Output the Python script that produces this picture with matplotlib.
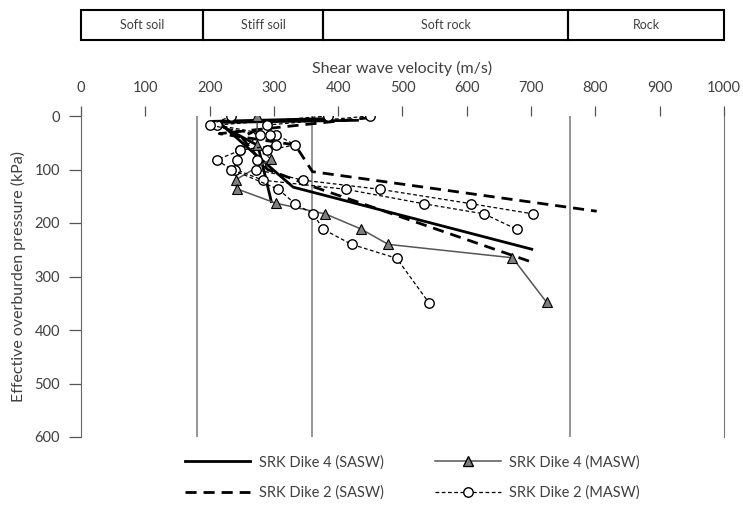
import matplotlib
matplotlib.use("Agg")
import matplotlib.pyplot as plt
from matplotlib.lines import Line2D
from matplotlib.patches import Rectangle

# ---------------- data ----------------
# SRK Dike 4 (SASW) profiles: velocity (m/s), pressure (kPa)
d4_sasw_v1 = [430, 215, 260, 330, 701]
d4_sasw_p1 = [8, 12, 60, 133, 249]
d4_sasw_v2 = [380, 205, 275, 296]
d4_sasw_p2 = [5, 10, 55, 160]

# SRK Dike 2 (SASW)
d2_sasw_v1 = [450, 215, 333, 360, 802]
d2_sasw_p1 = [3, 33, 54, 104, 178]
d2_sasw_v2 = [300, 250, 290, 361, 701]
d2_sasw_p2 = [10, 40, 100, 132, 273]

# SRK Dike 4 (MASW)
d4_masw_v = [274, 274, 295, 241, 242, 303, 380, 435, 478, 671, 724]
d4_masw_p = [0, 54, 81, 119, 136, 163, 183, 211, 240, 265, 348]

# SRK Dike 2 (MASW)
d2_masw_v1 = [449, 289, 304, 333, 290, 273, 272, 346, 465, 607, 703]
d2_masw_p1 = [0, 17, 35, 54, 64, 82, 100, 120, 137, 164, 183]
d2_masw_v2 = [384, 211, 294, 304, 248, 243, 240, 283, 412, 533, 627, 678]
d2_masw_p2 = [0, 17, 35, 54, 64, 82, 100, 120, 137, 164, 183, 212]
d2_masw_v3 = [234, 200, 278, 248, 211, 234, 307, 333, 361, 377, 421, 491, 541]
d2_masw_p3 = [0, 17, 35, 64, 82, 100, 137, 164, 183, 212, 240, 266, 349]

# site class boundaries
boundaries = [180, 360, 760]
classes = ["Soft soil", "Stiff soil", "Soft rock", "Rock"]
class_edges = [0, 190, 377, 758, 1000]

xticks = list(range(0, 1001, 100))
yticks = list(range(0, 601, 100))

# ---------------- style ----------------
plt.rcParams['font.family'] = ['Lato', 'DejaVu Sans']
txt_color = '#404040'

W, H = 743, 507
fig = plt.figure(figsize=(W / 100, H / 100), dpi=100)
ax = fig.add_axes([81 / W, 1 - 437 / H, (724 - 81) / W, (437 - 116) / H])

ax.set_xlim(0, 1000)
ax.set_ylim(600, 0)

for b in boundaries:
    ax.axvline(b, color='#8c8c8c', lw=1.3, zorder=1)

sasw_kw = dict(color='black', lw=2.0, zorder=3)
ax.plot(d4_sasw_v1, d4_sasw_p1, '-', **sasw_kw)
ax.plot(d4_sasw_v2, d4_sasw_p2, '-', **sasw_kw)
ax.plot(d2_sasw_v1, d2_sasw_p1, '--', dashes=(4, 2.5), **sasw_kw)
ax.plot(d2_sasw_v2, d2_sasw_p2, '--', dashes=(4, 2.5), **sasw_kw)

ax.plot(d4_masw_v, d4_masw_p, '-', color='#555555', lw=1.1, marker='^',
        ms=6.8, mfc='#7f7f7f', mec='black', mew=0.8, zorder=4)

m2_kw = dict(color='black', lw=0.9, marker='o', ms=6.8, mfc='white',
             mec='black', mew=1.0, zorder=5)
ax.plot(d2_masw_v1, d2_masw_p1, '--', dashes=(3, 2), **m2_kw)
ax.plot(d2_masw_v2, d2_masw_p2, '--', dashes=(3, 2), **m2_kw)
ax.plot(d2_masw_v3, d2_masw_p3, '--', dashes=(3, 2), **m2_kw)

ax.xaxis.tick_top()
ax.xaxis.set_label_position('top')
ax.set_xticks(xticks)
ax.set_yticks(yticks)
ax.tick_params(axis='x', direction='out', length=7, width=0.9, color='#555555',
               labelsize=10.5, labelcolor=txt_color, pad=8)
ax.tick_params(axis='y', direction='out', length=9, width=0.9, color='#555555',
               labelsize=10.5, labelcolor=txt_color, pad=6)
for s in ['top', 'bottom']:
    ax.spines[s].set_visible(False)
ax.spines['left'].set_color('#666666')
ax.spines['right'].set_color('#777777')
ax.set_xlabel('Shear wave velocity (m/s)', fontsize=11.5, color=txt_color, labelpad=6)
ax.set_ylabel('Effective overburden pressure (kPa)', fontsize=11.5, color=txt_color,
              labelpad=6)

# ---------------- top classification band ----------------
bx = fig.add_axes([81 / W, 1 - 40 / H, (724 - 81) / W, 30 / H])
bx.set_xlim(0, 1000)
bx.set_ylim(0, 1)
bx.axis('off')
for i, name in enumerate(classes):
    x0, x1 = class_edges[i], class_edges[i + 1]
    bx.add_patch(Rectangle((x0, 0), x1 - x0, 1, fill=False, ec='black', lw=1.5,
                           clip_on=False))
    bx.text((x0 + x1) / 2, 0.5, name, ha='center', va='center', fontsize=9,
            color=txt_color)

# ---------------- legend ----------------
handles = [
    Line2D([], [], color='black', lw=2.0),
    Line2D([], [], color='black', lw=2.0, ls='--', dashes=(4, 2.5)),
    Line2D([], [], color='#555555', lw=1.1, marker='^', ms=6.8, mfc='#7f7f7f', mec='black'),
    Line2D([], [], color='black', lw=0.9, ls='--', dashes=(3, 2), marker='o', ms=6.8,
           mfc='white', mec='black'),
]
labels = ['SRK Dike 4 (SASW)', 'SRK Dike 2 (SASW)', 'SRK Dike 4 (MASW)', 'SRK Dike 2 (MASW)']
leg = fig.legend(handles, labels, ncol=2, loc='center', bbox_to_anchor=(0.555, 0.058),
                 frameon=False, fontsize=10.5, handlelength=4.5, handletextpad=0.6,
                 columnspacing=3.5, labelspacing=1.1)
for t in leg.get_texts():
    t.set_color(txt_color)

fig.savefig('out.png', dpi=100)
